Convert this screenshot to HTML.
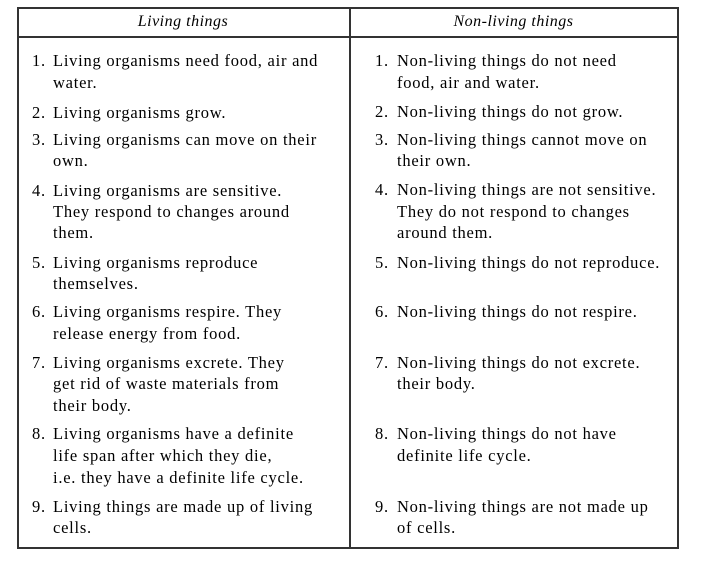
<!DOCTYPE html>
<html><head><meta charset="utf-8"><style>
body{margin:0;background:#fff;width:707px;height:568px;position:relative;overflow:hidden;font-family:"Liberation Serif",serif;color:#000}
.l{position:absolute;font-size:16.5px;letter-spacing:0.75px;line-height:18px;white-space:nowrap}
.b{position:absolute;background:#333}
.h{position:absolute;font-style:italic;font-size:16px;letter-spacing:0.5px;text-align:center;top:13px;line-height:18px}
</style></head><body>
<div class="b" style="left:17px;top:7px;width:662px;height:1.5px"></div>
<div class="b" style="left:17px;top:36px;width:662px;height:1.5px"></div>
<div class="b" style="left:17px;top:547px;width:662px;height:1.5px"></div>
<div class="b" style="left:17px;top:7px;width:1.5px;height:541px"></div>
<div class="b" style="left:677px;top:7px;width:1.5px;height:541px"></div>
<div class="b" style="left:349px;top:7px;width:1.5px;height:541px"></div>
<div class="h" style="left:17px;width:332px">Living things</div>
<div class="h" style="left:349px;width:329px">Non-living things</div>

<div class="l" style="left:32px;top:52px">1.</div><div class="l" style="left:53px;top:52px">Living organisms need food, air and</div>
<div class="l" style="left:53px;top:74px">water.</div>
<div class="l" style="left:32px;top:104px">2.</div><div class="l" style="left:53px;top:104px">Living organisms grow.</div>
<div class="l" style="left:32px;top:131px">3.</div><div class="l" style="left:53px;top:131px">Living organisms can move on their</div>
<div class="l" style="left:53px;top:152px">own.</div>
<div class="l" style="left:32px;top:182px">4.</div><div class="l" style="left:53px;top:182px">Living organisms are sensitive.</div>
<div class="l" style="left:53px;top:203px">They respond to changes around</div>
<div class="l" style="left:53px;top:224px">them.</div>
<div class="l" style="left:32px;top:254px">5.</div><div class="l" style="left:53px;top:254px">Living organisms reproduce</div>
<div class="l" style="left:53px;top:275px">themselves.</div>
<div class="l" style="left:32px;top:303px">6.</div><div class="l" style="left:53px;top:303px">Living organisms respire. They</div>
<div class="l" style="left:53px;top:325px">release energy from food.</div>
<div class="l" style="left:32px;top:354px">7.</div><div class="l" style="left:53px;top:354px">Living organisms excrete. They</div>
<div class="l" style="left:53px;top:375px">get rid of waste materials from</div>
<div class="l" style="left:53px;top:397px">their body.</div>
<div class="l" style="left:32px;top:425px">8.</div><div class="l" style="left:53px;top:425px">Living organisms have a definite</div>
<div class="l" style="left:53px;top:447px">life span after which they die,</div>
<div class="l" style="left:53px;top:469px">i.e. they have a definite life cycle.</div>
<div class="l" style="left:32px;top:498px">9.</div><div class="l" style="left:53px;top:498px">Living things are made up of living</div>
<div class="l" style="left:53px;top:519px">cells.</div>

<div class="l" style="left:375px;top:52px">1.</div><div class="l" style="left:397px;top:52px">Non-living things do not need</div>
<div class="l" style="left:397px;top:74px">food, air and water.</div>
<div class="l" style="left:375px;top:103px">2.</div><div class="l" style="left:397px;top:103px">Non-living things do not grow.</div>
<div class="l" style="left:375px;top:131px">3.</div><div class="l" style="left:397px;top:131px">Non-living things cannot move on</div>
<div class="l" style="left:397px;top:152px">their own.</div>
<div class="l" style="left:375px;top:181px">4.</div><div class="l" style="left:397px;top:181px">Non-living things are not sensitive.</div>
<div class="l" style="left:397px;top:203px">They do not respond to changes</div>
<div class="l" style="left:397px;top:224px">around them.</div>
<div class="l" style="left:375px;top:254px">5.</div><div class="l" style="left:397px;top:254px">Non-living things do not reproduce.</div>
<div class="l" style="left:375px;top:303px">6.</div><div class="l" style="left:397px;top:303px">Non-living things do not respire.</div>
<div class="l" style="left:375px;top:354px">7.</div><div class="l" style="left:397px;top:354px">Non-living things do not excrete.</div>
<div class="l" style="left:397px;top:375px">their body.</div>
<div class="l" style="left:375px;top:425px">8.</div><div class="l" style="left:397px;top:425px">Non-living things do not have</div>
<div class="l" style="left:397px;top:447px">definite life cycle.</div>
<div class="l" style="left:375px;top:498px">9.</div><div class="l" style="left:397px;top:498px">Non-living things are not made up</div>
<div class="l" style="left:397px;top:519px">of cells.</div>
</body></html>
